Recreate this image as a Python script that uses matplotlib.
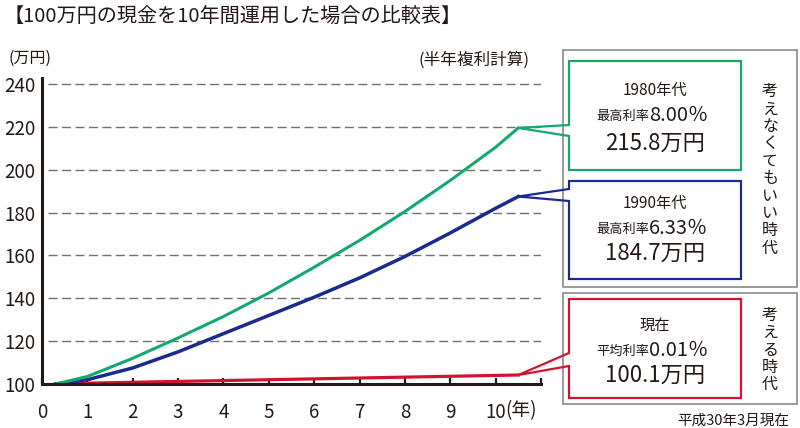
import matplotlib.pyplot as plt
from matplotlib.patches import Polygon, Rectangle

plt.rcParams['font.family'] = ['Noto Sans CJK JP', 'DejaVu Sans']

TXT = '#231815'

# data (万円)
years = [0.3, 1, 2, 3, 4, 5, 6, 7, 8, 9, 10, 10.5]
green_vals = [100, 103.5, 112, 121.5, 131.5, 142.5, 154.5, 167, 180.5, 195, 210.5, 219.5]
blue_vals = [100, 102, 107.5, 115, 123.5, 132, 140.5, 149.5, 159.5, 170.5, 182, 187.5]
red_vals = [100, 100.4, 100.8, 101.2, 101.6, 102, 102.4, 102.8, 103.2, 103.6, 104, 104.2]

x_ticks = list(range(0, 12))
x_labels = ['0', '1', '2', '3', '4', '5', '6', '7', '8', '9', '10', '']
y_ticks = [100, 120, 140, 160, 180, 200, 220, 240]

series_colors = ['#14a96b', '#1b2a8e', '#d2132f']
era_labels = ['1980年代', '1990年代', '現在']
rate_names = ['最高利率', '最高利率', '平均利率']
rate_vals = ['8.00％', '6.33％', '0.01％']
result_labels = ['215.8万円', '184.7万円', '100.1万円']

fig = plt.figure(figsize=(8, 4.28), dpi=100)
ax = fig.add_axes([42 / 800, 1 - 384 / 428, 499 / 800, 306 / 428])

ax.set_xlim(0, 11)
ax.set_ylim(100, 242.8)

for y in y_ticks[1:]:
    ax.hlines(y, 0.13, 11, colors='#707070', lw=1, linestyles=(0, (6.5, 3.2)), zorder=1)

ax.plot(years, red_vals, color=series_colors[2], lw=2.3, zorder=3)
ax.plot(years, blue_vals, color=series_colors[1], lw=2.5, zorder=3)
ax.plot(years, green_vals, color=series_colors[0], lw=2.2, zorder=3)

for s in ['top', 'right']:
    ax.spines[s].set_visible(False)
for s in ['left', 'bottom']:
    ax.spines[s].set_linewidth(2.2)
    ax.spines[s].set_color(TXT)
    ax.spines[s].set_zorder(4)

ax.set_xticks(x_ticks)
ax.set_xticklabels(x_labels)
ax.set_yticks(y_ticks)
ax.tick_params(axis='x', direction='in', length=4, width=1.6, color=TXT, pad=13,
               labelsize=13.5, labelcolor=TXT)
ax.tick_params(axis='y', length=0, pad=5, labelsize=13.5, labelcolor=TXT)

# overlay in pixel coordinates for titles and callout boxes
ov = fig.add_axes([0, 0, 1, 1], facecolor='none')
ov.set_xlim(0, 800)
ov.set_ylim(428, 0)
ov.axis('off')

ov.text(4, 17, '【100万円の現金を10年間運用した場合の比較表】', fontsize=14.5, color=TXT,
        ha='left', va='center')
ov.text(9, 58, '(万円)', fontsize=11.5, color=TXT, ha='left', va='center')
ov.text(418, 60, '(半年複利計算)', fontsize=12, color=TXT, ha='left', va='center')
ov.text(789, 421, '平成30年3月現在', fontsize=10.5, color=TXT, ha='right', va='center')
ov.text(505, 411, '(年)', fontsize=13.5, color=TXT, ha='left', va='center')

# outer grey frames
ov.add_patch(Rectangle((563, 50), 234, 237, fill=False, ec='#8a8a8a', lw=1.2))
ov.add_patch(Rectangle((563, 293), 234, 111, fill=False, ec='#8a8a8a', lw=1.2))
ov.text(770, 170, '\n'.join('考えなくてもいい時代'), fontsize=11.5, color=TXT,
        ha='center', va='center', linespacing=1.03)
ov.text(770, 350, '\n'.join('考える時代'), fontsize=11.5, color=TXT,
        ha='center', va='center', linespacing=1.03)

box_left, box_right = 569, 741
box_tops = [61, 181, 299]
box_bottoms = [170, 279, 398]
notch_tops = [125, 189, 353]
notch_bottoms = [136, 201, 366]
row_ys = [[90, 115, 143], [203, 228, 253], [325, 350, 375]]
ends = [green_vals[-1], blue_vals[-1], red_vals[-1]]

for i in range(3):
    dx, dy = ax.transData.transform((years[-1], ends[i]))
    tip = (dx, 428 - dy)
    pts = [(box_left, box_tops[i]), (box_right, box_tops[i]), (box_right, box_bottoms[i]),
           (box_left, box_bottoms[i]), (box_left, notch_bottoms[i]), tip,
           (box_left, notch_tops[i])]
    ov.add_patch(Polygon(pts, closed=True, fill=False, ec=series_colors[i], lw=1.6,
                         joinstyle='miter'))
    cx = (box_left + box_right) / 2
    ov.text(cx, row_ys[i][0], era_labels[i], fontsize=11, color=TXT, ha='center', va='center')
    ov.text(649, row_ys[i][1] + 1, rate_names[i], fontsize=9.5, color=TXT, ha='right', va='center')
    ov.text(649, row_ys[i][1], rate_vals[i], fontsize=14.5, color=TXT, ha='left', va='center')
    ov.text(cx, row_ys[i][2], result_labels[i], fontsize=16, color=TXT, ha='center', va='center')

fig.savefig('out.png', dpi=100)
